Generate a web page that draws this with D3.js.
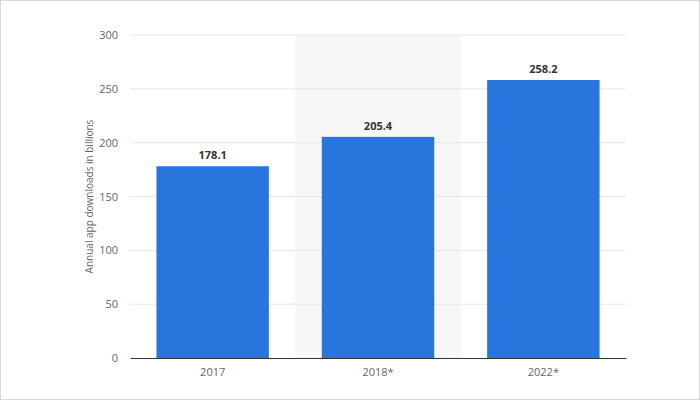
<!DOCTYPE html>
<html><head><meta charset="utf-8">
<script src="https://cdn.jsdelivr.net/npm/d3@7"></script>
<style>body{margin:0;background:#fff}svg{display:block}</style>
</head><body>
<svg id="c" width="700" height="400"></svg>
<script>
const categories = ["2017", "2018*", "2022*"];
const values = [178.1, 205.4, 258.2];
const yTicks = [0, 50, 100, 150, 200, 250, 300];
const highlighted = "2018*";

const svg = d3.select("#c");
svg.append("rect").attr("x",0.5).attr("y",0.5).attr("width",699).attr("height",399)
  .attr("fill","#fff").attr("stroke","#d9d9d9");
const m = {l:130, r:626, t:35, b:358};
const x = d3.scaleBand().domain(categories).range([m.l, m.r]).paddingInner(0.32).paddingOuter(0.16);
const y = d3.scaleLinear().domain([0,300]).range([m.b, m.t]);
const step = x.step();

svg.append("rect").attr("x", x(highlighted) - (step - x.bandwidth())/2).attr("y", m.t)
  .attr("width", step).attr("height", m.b - m.t).attr("fill", "#f7f7f7");

svg.append("g").selectAll("line").data(yTicks.filter(d=>d>0)).join("line")
  .attr("x1", m.l).attr("x2", m.r).attr("y1", d=>y(d)).attr("y2", d=>y(d))
  .attr("stroke", "#e6e6e6").attr("stroke-width", 1);

const ya = svg.append("g").attr("transform", `translate(${m.l},0)`)
  .call(d3.axisLeft(y).tickValues(yTicks).tickSize(0).tickPadding(12));
ya.select(".domain").remove();
ya.selectAll("text").attr("fill","#666").style("font","11px 'Open Sans', sans-serif");

svg.append("g").selectAll("rect").data(values).join("rect")
  .attr("x", (d,i)=>x(categories[i])).attr("width", x.bandwidth())
  .attr("y", d=>y(d)).attr("height", d=>m.b - y(d)).attr("fill", "#2876dd");

svg.append("g").selectAll("text").data(values).join("text")
  .attr("x", (d,i)=>x(categories[i]) + x.bandwidth()/2).attr("y", d=>y(d) - 7)
  .attr("text-anchor","middle").attr("fill","#333")
  .style("font","bold 11px 'Open Sans', sans-serif").text(d=>d.toFixed(1));

const xa = svg.append("g").attr("transform", `translate(0,${m.b})`)
  .call(d3.axisBottom(x).tickSize(0).tickPadding(10));
xa.select(".domain").attr("stroke","#333").attr("stroke-width",1.2);
xa.selectAll("text").attr("fill","#666").style("font","11px 'Open Sans', sans-serif");

svg.append("text").attr("transform", `translate(93,${(m.t+m.b)/2}) rotate(-90)`)
  .attr("text-anchor","middle").attr("fill","#666")
  .style("font","10px 'Open Sans', sans-serif").text("Annual app downloads in billions");
</script>
</body></html>
